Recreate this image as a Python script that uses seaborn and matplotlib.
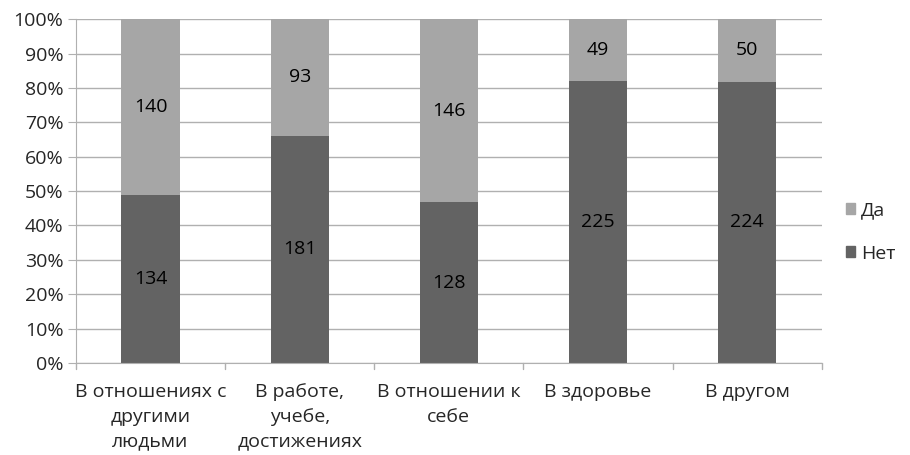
import numpy as np
import pandas as pd
import matplotlib
matplotlib.use("Agg")
import matplotlib.pyplot as plt
import seaborn as sns
from matplotlib.patches import Patch

categories = ["В отношениях с\nдругими\nлюдьми", "В работе,\nучебе,\nдостижениях",
              "В отношении к\nсебе", "В здоровье", "В другом"]
da = [140, 93, 146, 49, 50]
net = [134, 181, 128, 225, 224]

df = pd.DataFrame({"cat": categories, "da": da, "net": net})
df["total"] = df["da"] + df["net"]
df["net_pct"] = df["net"] / df["total"] * 100
df["all_pct"] = 100.0

sns.set_style("white")
plt.rcParams["font.family"] = ["Open Sans", "DejaVu Sans"]

c_da = "#a6a6a6"
c_net = "#636363"
fs = 14

fig = plt.figure(figsize=(9.1, 4.55), dpi=100)
ax = fig.add_axes([0.0835, 0.202, 0.8195, 0.756])

sns.barplot(data=df, x="cat", y="all_pct", color=c_da, width=0.39, saturation=1, linewidth=0, ax=ax)
sns.barplot(data=df, x="cat", y="net_pct", color=c_net, width=0.39, saturation=1, linewidth=0, ax=ax)

for i, row in df.iterrows():
    ax.text(i, row["net_pct"] / 2, str(row["net"]), ha="center", va="center", fontsize=fs, color="black")
    ax.text(i, row["net_pct"] + (100 - row["net_pct"]) / 2, str(row["da"]),
            ha="center", va="center", fontsize=fs, color="black")

ax.set_ylim(0, 100)
ax.set_xlim(-0.5, 4.5)
ax.set_yticks(np.arange(0, 101, 10))
ax.set_yticklabels([f"{v}%" for v in range(0, 101, 10)], fontsize=fs)
ax.yaxis.grid(True, color="#b0b0b0", linewidth=1)
ax.set_axisbelow(True)
ax.set_xlabel("")
ax.set_ylabel("")
ax.tick_params(axis="x", length=0, labelsize=fs, pad=14)
ax.tick_params(axis="y", length=6, color="#b0b0b0", left=True, pad=3)
ax.set_xticks(range(5))
ax.set_xticklabels(categories, linespacing=1.5)
for b in np.arange(-0.5, 4.6, 1):
    ax.plot([b, b], [0, -1.8], color="#b0b0b0", lw=1, clip_on=False)
for side in ["top", "right"]:
    ax.spines[side].set_visible(False)
ax.spines["left"].set_color("#b0b0b0")
ax.spines["bottom"].set_color("#b0b0b0")

handles = [Patch(color=c_da, label="Да"), Patch(color=c_net, label="Нет")]
fig.legend(handles=handles, loc="center left", bbox_to_anchor=(0.91, 0.49), frameon=False,
           fontsize=fs, handlelength=0.5, handleheight=0.5, handletextpad=0.3, labelspacing=1.3)

fig.savefig("out.png", dpi=100)
